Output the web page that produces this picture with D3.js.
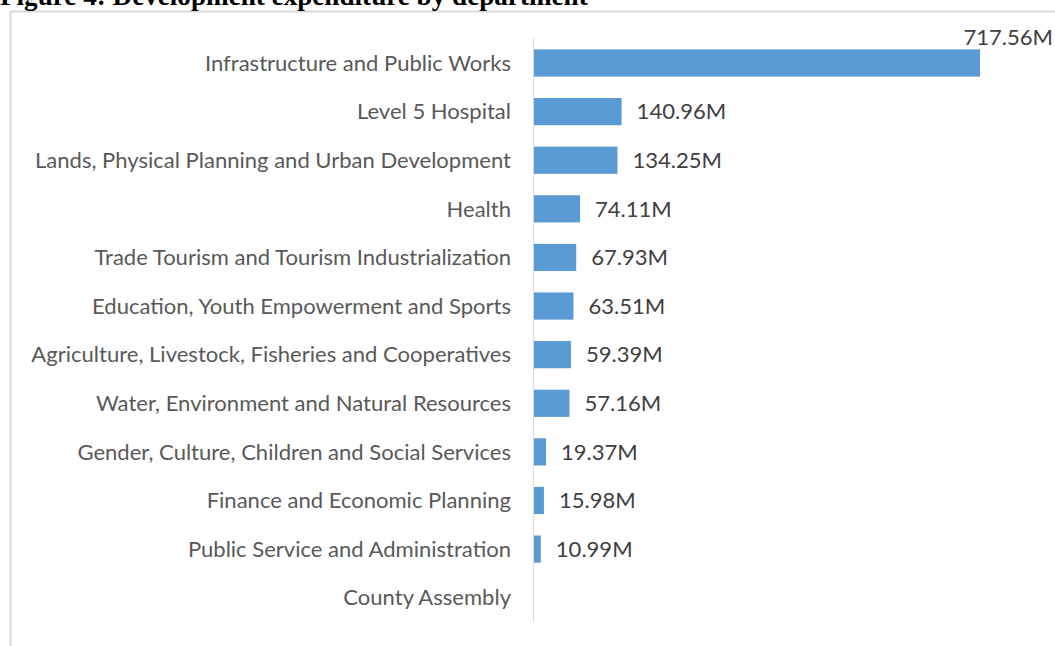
<!DOCTYPE html>
<html>
<head>
<meta charset="utf-8">
<script src="https://cdn.jsdelivr.net/npm/d3@7"></script>
<style>
  html, body { margin: 0; padding: 0; background: #ffffff; }
  svg { display: block; }
</style>
</head>
<body>
<svg id="chart" width="1055" height="646"></svg>
<script>
// Development expenditure by department (KES, millions)
const departments = [
  "Infrastructure and Public Works",
  "Level 5 Hospital",
  "Lands, Physical Planning and Urban Development",
  "Health",
  "Trade Tourism and Tourism Industrialization",
  "Education, Youth Empowerment and Sports",
  "Agriculture, Livestock, Fisheries and Cooperatives",
  "Water, Environment and Natural Resources",
  "Gender, Culture, Children and Social Services",
  "Finance and Economic Planning",
  "Public Service and Administration",
  "County Assembly"
];
const expenditure = [717.56, 140.96, 134.25, 74.11, 67.93, 63.51, 59.39, 57.16, 19.37, 15.98, 10.99, null];
const axisMax = 800;

const W = 1055, H = 646;
const svg = d3.select("#chart");
const labelFont = "Lato, 'Open Sans', 'Noto Sans', sans-serif";

// Frame around the chart area
svg.append("line").attr("x1", 10.5).attr("x2", 10.5).attr("y1", 11).attr("y2", H)
  .attr("stroke", "#d9d9d9").attr("stroke-width", 2);
svg.append("line").attr("x1", 10).attr("x2", W).attr("y1", 11.5).attr("y2", 11.5)
  .attr("stroke", "#d9d9d9").attr("stroke-width", 2);

// Caption above the frame
const title = svg.append("text")
  .attr("x", 0).attr("y", 5)
  .attr("font-family", "'Liberation Serif', 'Times New Roman', serif")
  .attr("font-weight", "bold")
  .attr("font-size", 21)
  .attr("fill", "#000")
  .text("Figure 4: Development expenditure by department");
{
  const w = title.node().getComputedTextLength();
  title.attr("font-size", 21 * 588 / w);
}

const data = departments.map((d, i) => ({ name: d, value: expenditure[i] }));

const y = d3.scaleBand().domain(departments).range([38.7, 622]).paddingInner(0.44).paddingOuter(0.22);
const x = d3.scaleLinear().domain([0, axisMax]).range([534, 534 + 800 * (446 / 717.56)]);

// Category labels
const cats = svg.append("g");
cats.selectAll("text").data(data).join("text")
  .attr("x", 511)
  .attr("y", d => y(d.name) + y.bandwidth() / 2)
  .attr("dy", "0.35em")
  .attr("text-anchor", "end")
  .attr("font-family", labelFont)
  .attr("font-size", 19)
  .attr("fill", "#595959")
  .text(d => d.name);
{
  const longest = d3.max(cats.selectAll("text").nodes(), n => n.getComputedTextLength());
  cats.selectAll("text").attr("font-size", 19 * 480 / longest);
}
const fs = +cats.select("text").attr("font-size");

// Bars
svg.append("g").selectAll("rect").data(data.filter(d => d.value != null)).join("rect")
  .attr("x", x(0))
  .attr("y", d => y(d.name))
  .attr("width", d => x(d.value) - x(0))
  .attr("height", y.bandwidth())
  .attr("fill", "#5b9bd5");

// Vertical category axis line
svg.append("line")
  .attr("x1", x(0) - 0.5).attr("x2", x(0) - 0.5)
  .attr("y1", 38).attr("y2", 622)
  .attr("stroke", "#d9d9d9").attr("stroke-width", 1);

// Value labels: outside the bar end, or above the bar when there is no room
const vals = svg.append("g");
vals.selectAll("text").data(data.filter(d => d.value != null)).join("text")
  .attr("font-family", labelFont)
  .attr("font-size", fs)
  .attr("fill", "#404040")
  .text(d => d3.format(".2f")(d.value) + "M")
  .each(function(d) {
    const t = d3.select(this);
    const w = this.getComputedTextLength();
    const xs = x(d.value) + 15;
    if (xs + w > W - 2) {
      t.attr("x", W - 2).attr("text-anchor", "end")
       .attr("y", y(d.name) - 4);
    } else {
      t.attr("x", xs).attr("text-anchor", "start")
       .attr("y", y(d.name) + y.bandwidth() / 2).attr("dy", "0.35em");
    }
  });
</script>
</body>
</html>
